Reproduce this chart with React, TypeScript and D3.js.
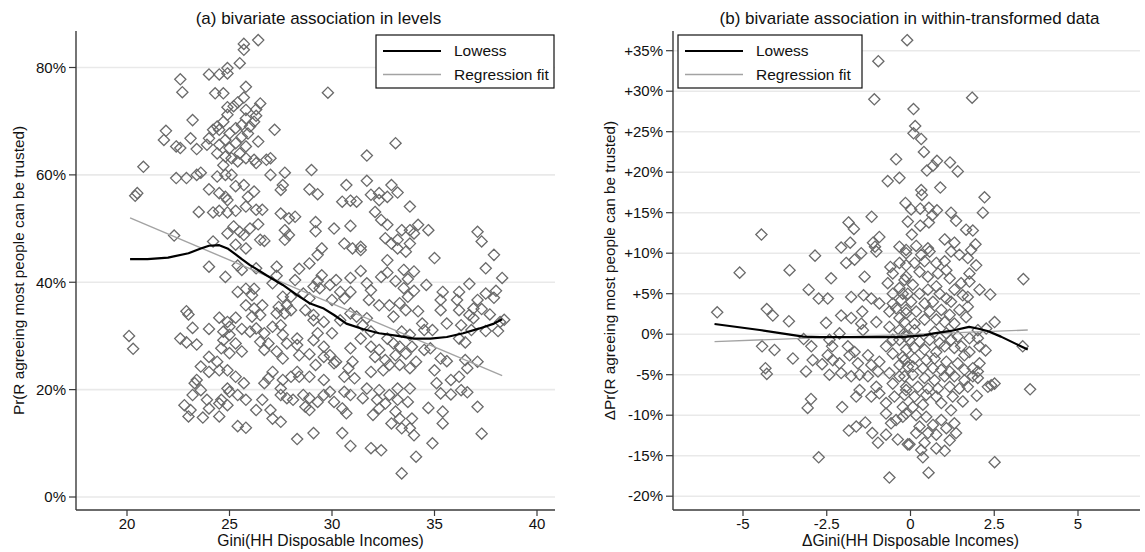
import React from "react";
import * as d3 from "d3";

// ---------- DATA ----------
// Panel (a): Gini (levels) vs share trusting (%)
const levelsPoints: [number, number][] = [
  [26.4,85.1],[25.7,84.4],[25.7,83.3],[25.5,80.8],[24.9,79.9],[24.0,78.7],[24.5,78.7],[24.9,78.9],[22.6,77.8],[22.7,75.4],[24.3,75.2],[24.7,75.2],[25.8,76.4],[25.7,74.4],[29.8,75.3],[26.5,73.3],[24.9,72.6],[25.2,72.8],[25.4,73.5],[26.3,72.2],[25.8,72.1],[23.2,70.2],[21.9,68.2],[21.8,66.5],[23.1,66.8],[22.4,65.3],[22.6,65.0],[23.4,64.8],[23.9,65.6],[24.0,66.8],[24.2,68.4],[24.4,69.0],[24.7,69.9],[24.9,71.2],[24.5,68.4],[24.8,66.5],[25.0,67.7],[25.3,68.7],[25.6,69.3],[25.8,70.5],[26.0,69.0],[26.2,69.9],[26.3,71.0],[25.9,67.7],[25.6,67.1],[25.3,65.9],[25.0,65.0],[24.5,65.6],[24.4,64.0],[24.8,63.4],[25.1,63.1],[25.5,64.0],[25.8,65.3],[26.4,66.2],[25.8,63.1],[26.2,62.8],[26.3,62.2],[26.8,62.8],[27.0,63.1],[27.2,68.4],[20.8,61.5],[22.4,59.4],[22.9,59.4],[23.4,60.0],[23.6,60.4],[24.4,59.7],[24.8,60.0],[25.1,60.0],[24.7,61.8],[25.4,62.5],[20.5,56.6],[20.4,56.1],[24.0,57.3],[24.5,56.6],[24.8,55.9],[24.9,55.3],[25.3,57.9],[25.7,58.1],[25.9,55.9],[26.2,56.9],[27.0,60.0],[27.7,60.4],[29.0,60.9],[27.6,58.1],[27.5,57.2],[28.9,57.3],[29.3,56.4],[23.5,53.1],[24.2,53.0],[24.5,53.3],[24.9,53.0],[25.3,53.3],[25.8,54.1],[26.3,53.5],[26.6,53.5],[27.5,52.8],[27.9,51.9],[28.2,52.2],[29.2,51.2],[29.2,49.5],[30.1,50.0],[26.4,50.8],[26.0,50.0],[25.2,50.4],[24.9,49.1],[25.5,49.4],[25.7,48.8],[25.3,47.0],[25.8,46.3],[26.5,47.9],[26.7,47.7],[27.7,49.7],[27.9,48.8],[27.7,47.9],[22.3,48.7],[24.2,47.6],[29.5,46.3],[29.3,45.1],
  [33.1,65.9],[31.7,63.6],[31.7,58.9],[30.7,58.1],[30.5,55.0],[30.9,55.2],[31.2,55.0],[31.9,56.3],[32.3,56.6],[32.3,55.3],[32.7,55.9],[32.9,58.1],[33.2,56.7],[33.8,54.1],[32.1,53.1],[32.4,51.6],[32.7,50.7],[33.4,49.7],[33.8,49.7],[34.2,50.7],[34.7,49.7],[34.0,49.1],[30.9,50.5],[37.1,49.4],[37.3,47.6],[37.9,45.1],[30.6,47.2],[31.0,46.3],[31.4,46.6],[31.4,46.0],[32.6,48.2],[32.9,47.2],[33.2,47.9],[33.8,47.2],[33.2,46.3],[33.6,45.7],[35.0,44.5],[32.7,44.1],
  [24.0,42.9],[24.8,41.0],[25.4,43.1],[25.6,42.3],[26.3,42.6],[27.3,42.9],[27.3,41.2],[27.1,39.8],[28.4,42.5],[28.9,43.5],[28.2,40.4],[29.5,41.3],[29.3,40.2],[29.9,39.5],[29.1,39.2],[29.4,38.9],[25.4,38.2],[25.8,38.8],[26.2,38.8],[26.1,37.6],[27.6,37.3],[28.0,37.3],[28.6,37.9],[28.9,37.0],[30.0,36.7],[22.9,34.6],[23.0,34.0],[25.8,35.7],[26.2,35.1],[26.6,35.7],[26.5,33.9],[26.1,33.6],[27.4,35.4],[27.8,35.7],[28.0,34.8],[27.3,34.2],[27.7,34.2],[28.7,34.8],[29.1,33.9],[29.6,32.6],[29.1,32.9],[24.5,33.4],[25.3,33.4],[24.9,32.6],[23.2,31.5],[24.0,31.3],[24.7,30.8],[25.0,31.7],[25.6,31.3],[26.0,30.8],[26.3,31.4],[26.7,30.5],[27.1,31.7],[27.5,32.0],[27.6,30.2],[28.3,29.5],[29.3,30.5],[30.0,30.5],[29.1,29.2],[29.6,28.0],[20.1,30.0],[20.3,27.6],[22.6,29.5],[22.9,28.8],[23.4,28.4],[24.7,29.2],[25.0,30.2],[25.3,28.6],[25.6,27.1],[25.0,26.8],[24.6,27.7],[24.0,26.1],[24.4,25.2],[23.6,24.3],[24.0,23.3],[24.5,23.6],[24.9,23.6],[26.5,28.9],[26.9,28.6],[26.7,27.4],[27.3,27.1],[27.6,25.8],[27.8,28.6],[28.3,28.3],[28.4,26.4],[28.9,26.6],[29.6,26.1],[29.9,26.4],[29.2,24.6],[25.3,22.4],[25.7,21.2],[23.4,21.8],[23.3,21.2],[23.6,19.9],[23.2,19.0],[23.9,18.1],[24.9,20.2],[25.0,19.6],[25.4,19.0],[25.8,18.1],[24.6,18.1],[24.9,17.1],[24.5,17.4],[22.8,17.1],[23.1,16.2],[23.0,15.0],[23.7,14.8],[24.0,16.5],[24.5,15.0],[26.6,18.1],[26.3,16.2],[26.7,21.2],[26.9,22.1],[27.1,23.3],[27.6,21.8],[27.5,20.2],[27.5,19.0],[27.8,18.4],[28.1,18.1],[28.0,22.4],[28.3,23.3],[28.4,22.4],[28.9,22.4],[29.6,21.8],[28.6,19.0],[28.9,18.4],[29.3,17.7],[28.7,16.8],[28.9,16.2],[29.6,19.0],[29.9,19.6],[27.0,16.2],[27.1,14.6],[27.5,14.0],[25.4,13.2],[25.8,12.9],[28.3,10.8],[29.1,11.9],
  [37.5,42.6],[38.3,40.8],[31.4,42.1],[30.9,40.8],[30.2,40.4],[32.4,41.0],[32.7,41.8],[33.5,42.3],[34.0,42.0],[33.7,40.6],[33.1,40.2],[31.7,39.8],[31.9,38.5],[30.4,38.2],[30.9,38.2],[33.5,38.9],[34.0,38.4],[34.6,39.5],[35.4,38.2],[35.3,36.7],[36.2,38.2],[36.7,39.7],[37.5,37.9],[37.9,37.1],[38.0,38.4],[36.1,36.7],[37.1,36.7],[30.6,37.0],[31.8,36.7],[32.3,35.7],[32.8,35.7],[33.3,36.1],[33.7,37.3],[33.6,34.8],[34.2,34.6],[35.3,34.8],[36.2,34.8],[36.9,35.1],[37.3,35.0],[37.7,34.0],[36.7,33.9],[36.9,33.3],[38.4,33.0],[38.2,32.6],[37.5,30.9],[38.1,30.9],[36.8,31.1],[36.3,32.0],[36.2,29.5],[36.5,28.8],[35.6,32.3],[34.9,31.1],[34.4,32.3],[34.5,31.1],[33.8,30.2],[33.4,30.8],[33.0,33.6],[33.0,28.6],[32.7,29.5],[31.9,30.8],[31.5,32.0],[31.7,33.3],[31.2,33.6],[30.9,34.2],[30.4,32.9],[31.4,29.5],[30.9,27.7],[30.2,25.2],[31.0,25.2],[30.8,24.0],[31.9,28.0],[32.3,27.4],[32.1,26.1],[32.6,25.5],[33.1,26.4],[33.6,26.7],[33.3,28.0],[33.9,28.0],[34.5,27.4],[34.8,27.7],[34.1,25.2],[33.8,24.0],[33.3,24.6],[32.8,24.6],[32.5,23.6],[31.9,23.3],[31.1,22.1],[30.6,22.4],[30.1,24.9],[35.3,25.8],[35.6,25.3],[35.0,23.6],[35.8,21.8],[36.2,22.4],[36.6,24.0],[37.1,25.2],[36.5,25.5],[35.1,21.2],[35.3,19.3],[35.8,19.1],[36.3,19.9],[36.6,19.5],[33.8,20.2],[33.2,20.2],[32.8,19.0],[32.3,19.9],[31.7,20.2],[31.5,18.4],[30.9,19.0],[30.6,19.6],[30.1,17.7],[30.5,16.5],[30.7,15.6],[32.2,18.1],[32.6,17.4],[33.2,18.1],[33.7,17.7],[32.3,16.5],[32.0,15.3],[33.1,15.9],[32.9,13.7],[33.3,14.6],[33.4,12.8],[33.9,14.6],[33.8,12.8],[34.0,11.5],[34.7,16.6],[35.4,15.9],[35.4,13.7],[37.1,16.8],[37.3,11.8],[34.9,10.0],[34.1,7.5],[33.4,4.4],[30.5,11.9],[30.9,9.5],[31.9,9.1],[32.4,8.7]
];

// Panel (b): within-transformed deltas
const withinPoints: [number, number][] = [
  [-0.1,36.3],[-0.96,33.7],[-1.08,29.0],[-0.43,21.6],[-0.68,18.9],[-0.33,19.3],[-0.15,16.2],[-0.08,13.9],[-1.16,14.5],[-1.85,13.8],[-1.69,13.0],[-1.8,11.3],[-1.12,11.3],[-0.93,12.0],[-1.06,10.8],[-2.07,10.7],[-0.33,10.8],[-4.45,12.3],
  [1.84,29.2],[0.09,27.8],[0.14,25.7],[0.09,24.8],[0.32,24.1],[0.40,22.5],[0.79,21.4],[0.67,20.8],[0.49,20.2],[1.18,21.2],[1.41,20.1],[0.89,18.1],[0.32,17.8],[0.34,17.2],[2.21,16.9],[2.16,15.0],[0.02,15.4],[0.29,15.5],[0.55,15.6],[0.79,15.3],[0.65,14.7],[1.21,15.0],[1.36,14.0],[0.29,13.4],[0.55,13.8],[1.66,12.9],[1.86,12.8],[0.04,12.3],[1.02,11.7],[1.31,11.3],[1.94,11.1],[0.17,10.9],[0.52,10.6],
  [-5.77,2.7],[-5.1,7.6],[-3.61,7.9],[-2.85,9.7],[-2.37,6.9],[-1.92,8.8],[-1.67,9.2],[-1.47,10.0],[-1.02,10.2],[-1.37,7.1],[-3.04,5.5],[-2.74,4.4],[-2.47,4.4],[-1.77,4.6],[-1.40,4.8],[-1.17,4.4],[-0.93,3.8],[-0.68,6.3],[-0.53,7.5],[-0.33,8.8],[-0.6,8.3],[-0.13,10.0],[-4.29,3.1],[-4.11,2.3],[-3.63,1.6],[-2.52,1.4],[-2.07,2.3],[-1.77,2.0],[-1.44,2.8],[-2.12,0.1],[-1.42,0.5],[-1.47,1.3],[-1.02,1.5],[-0.63,2.8],[-0.43,3.2],[-0.33,2.0],[-0.13,2.6],[-4.43,-1.5],[-4.06,-1.95],[-4.33,-4.2],[-4.29,-4.9],[-3.51,-3.0],[-3.19,-0.6],[-2.96,-1.5],[-2.92,-3.2],[-3.12,-4.6],[-2.64,-3.7],[-2.42,-0.7],[-2.34,-1.5],[-2.47,-2.6],[-2.32,-3.2],[-2.42,-5.0],[-2.07,-4.8],[-2.12,-3.6],[-1.87,-1.5],[-1.82,-2.6],[-1.67,-2.2],[-1.57,-3.6],[-1.77,-5.2],[-1.52,-5.0],[-1.27,-2.6],[-1.17,-3.8],[-0.93,-3.4],[-0.97,-4.6],[-1.27,-5.2],[-1.52,-6.9],[-1.62,-7.7],[-1.17,-7.7],[-1.02,-6.5],[-0.93,-7.3],[-0.63,-4.8],[-0.53,-6.1],[-0.33,-5.2],[-0.13,-6.9],[-0.48,-7.7],[-0.73,-9.8],[-0.43,-10.6],[-0.13,-9.8],[-2.97,-8.0],[-3.07,-9.1],[-2.04,-9.0],[-1.84,-11.9],[-1.62,-11.4],[-1.35,-10.9],[-1.14,-12.2],[-0.97,-13.4],[-0.73,-12.4],[-0.38,-13.0],[-0.08,-13.6],[-2.74,-15.2],[-0.63,-17.7],[-0.53,-0.7],[-0.73,-1.5],[-0.53,-2.4],[-0.33,-0.7],[-0.23,-2.8],[-0.63,0.9],[-0.33,0.5],[-0.13,-0.3],[-0.08,-4.0],[-0.33,-3.8],[-0.53,5.0],[-0.33,5.7],[-0.08,5.0],[-0.13,7.1],[-0.53,3.8],[-0.28,4.2],[-0.73,-8.5],[-0.58,-11.0],
  [-0.13,10.4],[0.32,9.8],[0.57,10.2],[1.21,10.2],[1.46,9.8],[1.81,10.4],[1.71,9.4],[1.96,8.5],[3.37,6.8],[-0.13,8.5],[0.12,8.8],[0.42,9.0],[0.77,8.8],[1.02,9.0],[0.27,7.7],[0.52,7.1],[0.82,7.5],[1.07,7.9],[1.17,6.9],[1.51,6.3],[1.76,7.5],[1.76,6.5],[2.06,5.5],[2.38,4.9],[-0.18,6.7],[0.07,6.1],[-0.23,5.0],[0.27,5.0],[0.52,5.5],[0.77,5.9],[0.87,5.0],[1.07,4.4],[1.31,5.5],[1.56,4.8],[1.71,4.6],[0.02,4.0],[0.42,3.8],[0.67,4.0],[1.21,4.0],[1.71,3.4],[1.46,3.0],[-0.13,3.0],[0.17,2.8],[0.57,2.8],[0.92,3.0],[1.17,2.4],[1.66,2.1],[-0.18,1.5],[0.12,1.3],[0.42,1.8],[0.77,1.8],[1.02,1.5],[1.31,1.3],[2.51,1.5],[2.01,0.5],[2.26,0.7],[-0.18,0.1],[0.12,0.5],[0.72,0.3],[1.07,0.1],[1.41,-0.3],[-0.03,-0.7],[0.27,-0.9],[0.57,-0.7],[0.87,-1.1],[1.21,-0.7],[1.76,-0.5],[2.01,-0.5],[2.06,-1.5],[2.24,-2.0],[3.35,-1.5],[-0.13,-1.9],[0.12,-1.7],[0.42,-1.9],[0.77,-2.2],[1.02,-1.5],[1.31,-1.7],[1.51,-1.5],[1.61,-2.6],[1.76,-2.2],[-0.18,-3.2],[0.12,-3.0],[0.47,-3.2],[0.72,-3.0],[1.07,-3.4],[1.41,-3.6],[0.07,-4.0],[0.37,-4.2],[0.67,-4.2],[0.92,-4.4],[1.17,-4.6],[1.61,-4.4],[1.86,-4.2],[2.06,-3.6],[2.01,-4.6],[-0.18,-5.2],[0.07,-5.0],[0.42,-5.4],[0.72,-5.7],[1.02,-5.2],[1.31,-5.2],[1.61,-5.7],[1.86,-5.2],[2.01,-5.4],[2.31,-6.5],[2.51,-6.1],[2.41,-6.3],[3.57,-6.8],[-0.13,-6.5],[0.22,-6.5],[0.52,-6.7],[0.82,-6.7],[1.17,-6.5],[1.46,-6.7],[1.71,-6.5],[1.98,-7.6],[-0.18,-7.5],[0.12,-7.7],[0.47,-7.5],[0.77,-7.7],[1.26,-7.7],[1.56,-8.3],[-0.23,-9.0],[0.07,-9.0],[0.37,-8.7],[0.92,-8.5],[1.21,-9.4],[1.96,-9.9],[-0.23,-10.2],[0.17,-10.0],[0.47,-10.2],[0.92,-10.6],[1.31,-11.0],[0.27,-11.4],[0.67,-11.2],[1.07,-11.6],[1.36,-12.2],[0.17,-12.2],[0.52,-12.2],[0.77,-12.4],[1.17,-13.1],[-0.03,-13.6],[0.32,-14.3],[0.77,-14.1],[1.02,-14.4],[0.42,-13.4],[0.37,-15.2],[0.54,-17.1],[2.51,-15.8]
];

const levelsLowess: [number, number][] = [
  [20.15,44.3],[21,44.3],[22,44.6],[23,45.4],[23.6,46.3],[24.0,46.8],[24.5,46.9],[24.9,46.3],[25.3,45.2],[25.6,44.3],[26.0,43.2],[26.8,41.3],[27.6,39.5],[28.3,37.6],[28.9,36.1],[29.6,35.1],[30.1,33.9],[30.7,32.3],[31.5,31.3],[32.3,30.5],[33.2,30.0],[34.0,29.5],[34.8,29.5],[35.6,29.8],[36.4,30.5],[37.2,31.4],[37.9,32.3],[38.3,33.1]
];
const withinLowess: [number, number][] = [
  [-5.85,1.26],[-4.5,0.52],[-3.2,-0.3],[-2.7,-0.35],[-1.5,-0.35],[-0.3,-0.35],[0.4,-0.15],[0.7,0.1],[1.2,0.4],[1.75,0.9],[2.0,0.7],[2.3,0.4],[2.7,-0.3],[3.5,-1.9]
];

const levelsFit = { intercept: 84.64, slope: -1.62, from: 20.15, to: 38.3 };
const withinFit = { intercept: -0.02, slope: 0.154, from: -5.85, to: 3.5 };

const levelsXTicks = [20, 25, 30, 35, 40];
const levelsYTicks = [0, 20, 40, 60, 80];
const withinXTicks = [-5, -2.5, 0, 2.5, 5];
const withinYTicks = [-20, -15, -10, -5, 0, 5, 10, 15, 20, 25, 30, 35];

const FONT = "'Liberation Sans', Arial, Helvetica, sans-serif";

type PanelProps = {
  title: string;
  xLabel: string;
  yLabel: string;
  points: [number, number][];
  lowess: [number, number][];
  fit: { intercept: number; slope: number; from: number; to: number };
  xTicks: number[];
  yTicks: number[];
  xDomain: [number, number];
  xRange: [number, number];
  yDomain: [number, number];
  yRange: [number, number];
  left: number;
  right: number;
  yFmt: (v: number) => string;
  xFmt: (v: number) => string;
  legendX: number;
  legendW: number;
  yLabelX: number;
  xLabelShift: number;
};

const TOP = 31;
const BOTTOM = 510;

function Panel(p: PanelProps) {
  const x = d3.scaleLinear().domain(p.xDomain).range(p.xRange);
  const y = d3.scaleLinear().domain(p.yDomain).range(p.yRange);
  const line = d3.line<[number, number]>().x((d) => x(d[0])).y((d) => y(d[1]));
  const fitPts: [number, number][] = [p.fit.from, p.fit.to].map((v) => [v, p.fit.intercept + p.fit.slope * v]);
  const diamond = "M0,-5.6L5.6,0L0,5.6L-5.6,0Z";
  const cx = (p.left + p.right) / 2;
  const cy = (TOP + BOTTOM) / 2;
  return (
    <g>
      <text x={cx + 3} y={24} textAnchor="middle" fontSize={17} fill="#111">{p.title}</text>
      {p.yTicks.map((t) => (
        <line key={"g" + t} x1={p.left} x2={p.right} y1={y(t)} y2={y(t)} stroke="#e9e9e9" strokeWidth={1.6} />
      ))}
      {p.points.map((d, i) => (
        <path key={i} d={diamond} transform={`translate(${x(d[0])},${y(d[1])})`} fill="none" stroke="#6a6a6a" strokeWidth={1.3} />
      ))}
      <path d={line(fitPts) || ""} fill="none" stroke="#a3a3a3" strokeWidth={1.4} />
      <path d={line(p.lowess) || ""} fill="none" stroke="#000" strokeWidth={2.2} strokeLinejoin="round" />
      <line x1={p.left} x2={p.left} y1={TOP} y2={BOTTOM} stroke="#3a3a3a" strokeWidth={1.4} />
      <line x1={p.left} x2={p.right} y1={BOTTOM} y2={BOTTOM} stroke="#3a3a3a" strokeWidth={1.4} />
      {p.yTicks.map((t) => (
        <g key={"yt" + t}>
          <line x1={p.left - 7} x2={p.left} y1={y(t)} y2={y(t)} stroke="#3a3a3a" strokeWidth={1.2} />
          <text x={p.left - 10} y={y(t)} dy="0.35em" textAnchor="end" fontSize={15} fill="#111">{p.yFmt(t)}</text>
        </g>
      ))}
      {p.xTicks.map((t) => (
        <g key={"xt" + t}>
          <line x1={x(t)} x2={x(t)} y1={BOTTOM} y2={BOTTOM + 6} stroke="#3a3a3a" strokeWidth={1.2} />
          <text x={x(t)} y={529} textAnchor="middle" fontSize={15} fill="#111">{p.xFmt(t)}</text>
        </g>
      ))}
      <text x={cx + p.xLabelShift} y={546} textAnchor="middle" fontSize={15.7} fill="#111">{p.xLabel}</text>
      <text transform={`translate(${p.yLabelX},${cy}) rotate(-90)`} dy="0.35em" textAnchor="middle" fontSize={15.3} fill="#111">{p.yLabel}</text>
      <g transform={`translate(${p.legendX},35)`}>
        <rect x={0} y={0} width={p.legendW} height={53} fill="#fff" stroke="#111" strokeWidth={1.2} />
        <line x1={7} x2={65} y1={16} y2={16} stroke="#000" strokeWidth={2.2} />
        <line x1={7} x2={65} y1={39.5} y2={39.5} stroke="#a3a3a3" strokeWidth={1.4} />
        <text x={78} y={16} dy="0.35em" fontSize={15.5} fill="#111">Lowess</text>
        <text x={78} y={39.5} dy="0.35em" fontSize={15.5} fill="#111">Regression fit</text>
      </g>
    </g>
  );
}

export default function App() {
  return (
    <svg width={1145} height={552} style={{ position: "absolute", left: 0, top: 0, background: "#fff" }} fontFamily={FONT}>
      <rect width={1145} height={552} fill="#fff" />
      <Panel
        title="(a) bivariate association in levels"
        xLabel="Gini(HH Disposable Incomes)"
        yLabel="Pr(R agreeing most people can be trusted)"
        points={levelsPoints}
        lowess={levelsLowess}
        fit={levelsFit}
        xTicks={levelsXTicks}
        yTicks={levelsYTicks}
        xDomain={[20, 40]}
        xRange={[127, 537]}
        yDomain={[0, 80]}
        yRange={[497, 67.5]}
        left={76}
        right={555}
        yFmt={(v) => `${v}%`}
        xFmt={(v) => `${v}`}
        legendX={376}
        legendW={178}
        yLabelX={19}
        xLabelShift={5}
      />
      <Panel
        title="(b) bivariate association in within-transformed data"
        xLabel="ΔGini(HH Disposable Incomes)"
        yLabel="ΔPr(R agreeing most people can be trusted)"
        points={withinPoints}
        lowess={withinLowess}
        fit={withinFit}
        xTicks={withinXTicks}
        yTicks={withinYTicks}
        xDomain={[-5, 5]}
        xRange={[743, 1078]}
        yDomain={[-20, 35]}
        yRange={[496.2, 50.7]}
        left={673}
        right={1140}
        yFmt={(v) => (v > 0 ? `+${v}%` : v < 0 ? `-${Math.abs(v)}%` : "0%")}
        xFmt={(v) => (v < 0 ? `-${Math.abs(v)}` : `${v}`)}
        legendX={678}
        legendW={184}
        yLabelX={610}
        xLabelShift={4}
      />
    </svg>
  );
}
